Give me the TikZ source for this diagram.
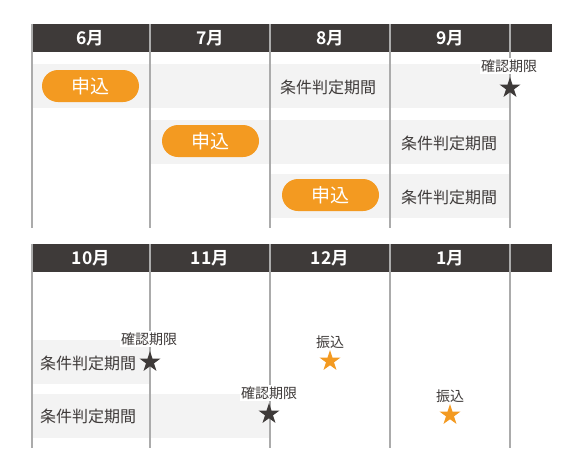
\documentclass[tikz,border=0pt]{standalone}
\usepackage{fontspec}
\setmainfont{Noto Sans CJK JP}
\newfontfamily\jpb{Noto Sans CJK JP Bold}
\usetikzlibrary{shapes.geometric}
\definecolor{hdr}{HTML}{3E3A39}
\definecolor{org}{HTML}{F39A21}
\definecolor{rowg}{HTML}{F3F3F3}
\definecolor{vline}{HTML}{ABABAB}
\definecolor{txt}{HTML}{3E3A39}
\begin{document}
\begin{tikzpicture}[x=1pt,y=-1pt,
  hdrbar/.style={fill=hdr,draw=none},
  month/.style={text=white,font=\jpb\fontsize{17.5}{17.5}\selectfont,inner sep=0pt},
  rowbox/.style={fill=rowg,draw=none},
  grid/.style={draw=vline,line width=2pt},
  pill/.style={fill=org,draw=none,rounded corners=16pt,minimum width=97pt,minimum height=32pt,text=white,font=\fontsize{19}{19}\selectfont,inner sep=0pt},
  period/.style={text=txt,font=\fontsize{16}{16}\selectfont,inner sep=0pt},
  deadline/.style={text=txt,fill=white,font=\fontsize{14}{14}\selectfont,inner sep=1.5pt},
  blackstar/.style={star,star points=5,star point ratio=2.6,fill=hdr,draw=none,minimum size=22pt,inner sep=0pt},
  orangestar/.style={star,star points=5,star point ratio=2.6,fill=org,draw=none,minimum size=22pt,inner sep=0pt},
  pay/.style={text=txt,font=\fontsize{14}{14}\selectfont,inner sep=0pt}]
\useasboundingbox (0,0) rectangle (576,464);
% ---------- top block ----------
\fill[rowbox] (32,64) rectangle (510,108);
\fill[rowbox] (150,120) rectangle (510,164);
\fill[rowbox] (270,174) rectangle (510,218);
\fill[hdrbar] (32,24) rectangle (552,52);
\foreach \x in {32,150,270,390,510} \draw[grid] (\x,24) -- (\x,228);
\node[month] (m6) at (90,38) {6月};
\node[month] (m7) at (210,38) {7月};
\node[month] (m8) at (330,38) {8月};
\node[month] (m9) at (450,38) {9月};
\node[pill] (p1) at (90.5,86) {申込};
\node[pill] (p2) at (210.5,141) {申込};
\node[pill] (p3) at (330.5,195) {申込};
\node[period] (c1) at (328,87) {条件判定期間};
\node[period] (c2) at (449,143) {条件判定期間};
\node[period] (c3) at (449,197) {条件判定期間};
\node[deadline] (d1) at (509,66) {確認期限};
\node[blackstar] (s1) at (510,88) {};
% ---------- bottom block ----------
\fill[rowbox] (32,340) rectangle (150,384);
\fill[rowbox] (32,394) rectangle (270,438);
\fill[hdrbar] (32,244) rectangle (552,272);
\foreach \x in {32,150,270,390,510} \draw[grid] (\x,244) -- (\x,448);
\node[month] (m10) at (91,258) {10月};
\node[month] (m11) at (210,258) {11月};
\node[month] (m12) at (330,258) {12月};
\node[month] (m1) at (450,258) {1月};
\node[period,anchor=west] (c4) at (40,363) {条件判定期間};
\node[period,anchor=west] (c5) at (40,416) {条件判定期間};
\node[deadline] (d2) at (149,339) {確認期限};
\node[blackstar] (s2) at (150,362) {};
\node[deadline] (d3) at (269,393) {確認期限};
\node[blackstar] (s3) at (269,414) {};
\node[pay] (f1) at (330,342) {振込};
\node[orangestar] (o1) at (330,361) {};
\node[pay] (f2) at (450,396) {振込};
\node[orangestar] (o2) at (450,415) {};
\end{tikzpicture}
\end{document}
